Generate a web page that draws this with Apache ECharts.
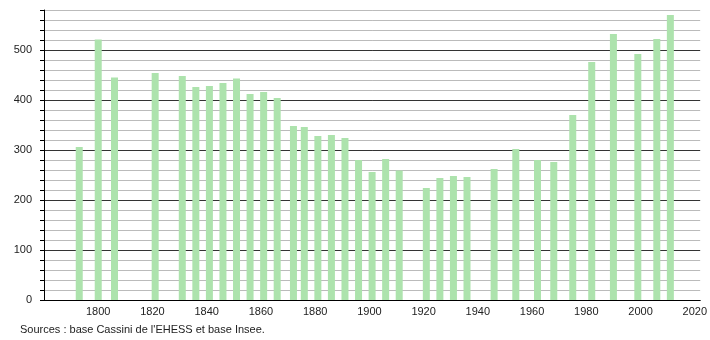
<!DOCTYPE html>
<html>
<head>
<meta charset="utf-8">
<script src="https://cdn.jsdelivr.net/npm/echarts@6/dist/echarts.min.js"></script>
<style>
html, body { margin: 0; padding: 0; background: #fff; }
#main { width: 710px; height: 340px; }
</style>
</head>
<body>
<div id="main"></div>
<script>
// population par recensement
var years = [1793, 1800, 1806, 1821, 1831, 1836, 1841, 1846, 1851, 1856, 1861, 1866,
    1872, 1876, 1881, 1886, 1891, 1896, 1901, 1906, 1911, 1921, 1926, 1931, 1936,
    1946, 1954, 1962, 1968, 1975, 1982, 1990, 1999, 2006, 2011];
var population = [306, 521, 445, 454, 448, 426, 428, 434, 443, 412, 416, 404,
    348, 346, 328, 330, 324, 280, 256, 282, 259, 224, 244, 248, 246,
    262, 302, 280, 276, 370, 476, 532, 492, 522, 570];
var sourceText = "Sources : base Cassini de l'EHESS et base Insee.";

var chart = echarts.init(document.getElementById('main'));

var points = [];
for (var i = 0; i < years.length; i++) {
    points.push([years[i], population[i]]);
}

chart.setOption({
    animation: false,
    grid: {
        left: 44,
        right: 9,
        top: 10,
        bottom: 40
    },
    xAxis: {
        type: 'value',
        min: 1780,
        max: 2022,
        interval: 20,
        axisLine: { show: true, onZero: false, lineStyle: { color: '#000', width: 1 } },
        axisTick: { show: false },
        splitLine: { show: false },
        axisLabel: {
            color: '#222',
            fontSize: 11,
            fontFamily: 'Liberation Sans',
            margin: 6,
            formatter: function (v) {
                if (v == 1780 || v % 20 != 0) return '';
                return v;
            }
        }
    },
    yAxis: {
        type: 'value',
        min: 0,
        max: 580,
        interval: 20,
        axisLine: { show: true, lineStyle: { color: '#000', width: 1 } },
        axisTick: { show: true, length: 4, lineStyle: { color: '#000' } },
        splitLine: {
            show: true,
            lineStyle: { color: ['#333', '#bbb', '#bbb', '#bbb', '#bbb'], width: 1 }
        },
        axisLabel: {
            color: '#222',
            fontSize: 11,
            fontFamily: 'Liberation Sans',
            margin: 12,
            formatter: function (v) {
                return v % 100 == 0 ? v : '';
            }
        }
    },
    series: [{
        type: 'bar',
        data: points,
        barWidth: 7,
        itemStyle: { color: '#ade3ad' }
    }],
    graphic: [{
        type: 'text',
        left: 20,
        top: 324,
        style: {
            text: sourceText,
            fill: '#222',
            fontSize: 11,
            fontFamily: 'Liberation Sans'
        }
    }]
});
</script>
</body>
</html>
